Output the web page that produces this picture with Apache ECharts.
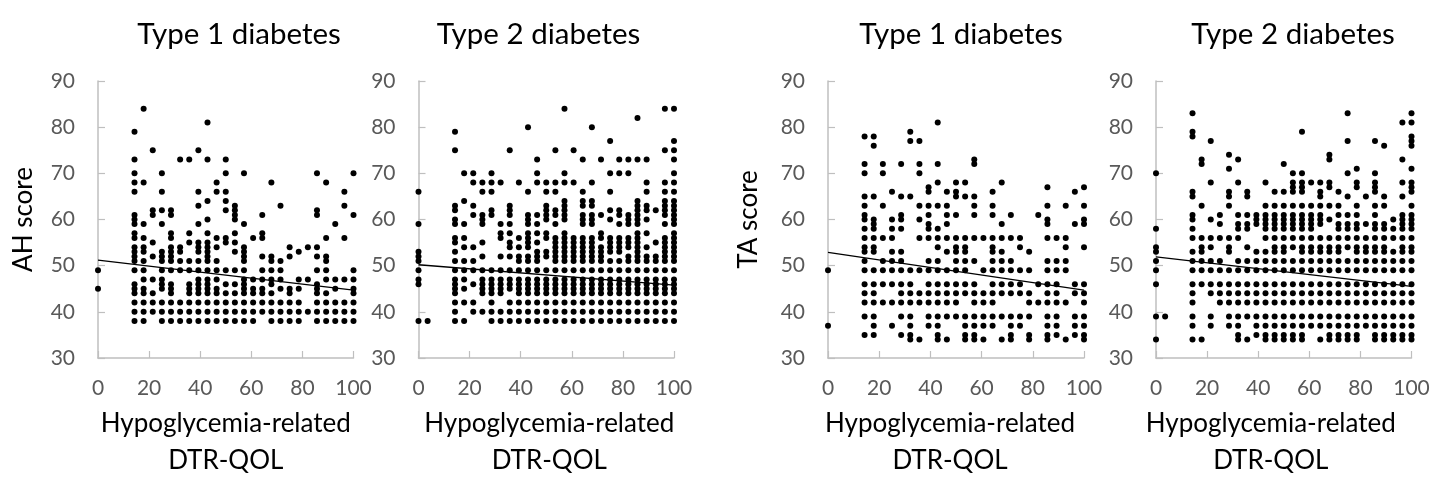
<!DOCTYPE html>
<html><head><meta charset="utf-8">
<style>html,body{margin:0;padding:0;background:#fff}#c{width:1432px;height:479px}</style>
<script src="https://cdn.jsdelivr.net/npm/echarts@6/dist/echarts.min.js"></script>
</head><body><div id="c"></div>
<script>
const xColumns = [0,3.57,14.29,17.86,21.43,25,28.57,32.14,35.71,39.29,42.86,46.43,50,53.57,57.14,60.71,64.29,67.86,71.43,75,78.57,82.14,85.71,89.29,92.86,96.43,100];
const ahType1 = [
[49,45],[],
[79,73,70,68,66,61,60,59,57,56,54,53,52,51,49,46,45,44,42,40,38],
[84,68,59,56,54,53,51,49,47,45,44,42,40,38],
[75,62,61,55,52,47,44,42,40],
[70,66,62,59,53,52,51,49,47,46,45,42,40,38],
[62,61,57,56,54,53,52,51,49,46,45,44,42,40,38],
[73,54,53,51,49,42,40,38],
[73,57,55,51,49,46,45,44,42,40,38],
[75,66,63,59,55,54,53,51,49,47,46,45,44,42,40,38],
[81,73,64,60,57,55,54,53,52,51,49,47,46,45,44,42,40,38],
[68,66,56,54,51,49,47,45,44,42,40,38],
[73,70,66,64,62,56,55,49,46,44,42,40,38],
[63,62,61,60,57,55,53,49,46,44,42,40,38],
[70,59,54,53,52,51,49,47,46,45,44,42,40,38],
[56,47,45,44,42,40,38],
[61,57,56,52,49,47,45,44,42,40],
[68,52,51,49,47,46,44,42,40,38],
[63,51,49,47,45,42,40,38],
[54,52,45,44,42,40,38],
[53,47,45,42,40,38],
[54,47,40],
[70,62,61,54,52,49,46,45,44,42,40,38],
[68,56,52,51,49,47,44,42,40,38],
[59,47,45,42,40,38],
[66,63,56,47,42,40,38],
[70,61,49,47,45,44,42,40,38]
];
const ahType2 = [
[66,59,53,52,51,49,47,46,38],[38],
[79,75,63,62,60,59,56,55,53,51,49,47,46,45,44,42,40,38],
[70,64,59,56,54,51,49,47,45,42,38],
[70,68,63,61,54,51,49,46,42,40],
[68,66,61,60,59,55,52,49,47,46,45,44,40],
[70,68,66,62,61,49,47,46,45,44,42,40,38],
[68,59,57,56,52,49,47,46,45,44,40,38],
[75,63,62,61,59,57,55,54,52,49,47,46,45,42,40,38],
[68,56,54,52,51,49,47,46,45,44,42,40,38],
[80,66,61,60,59,57,56,55,54,52,51,49,47,46,45,44,42,40,38],
[73,70,68,61,59,57,55,53,52,51,49,47,46,45,44,42,40,38],
[68,66,63,62,61,60,57,56,53,52,49,47,46,45,44,42,40,38],
[75,68,66,62,61,59,56,55,54,53,52,51,49,47,46,45,44,42,40,38],
[84,70,68,64,63,62,61,60,57,56,55,54,53,52,51,49,47,46,45,44,42,40,38],
[75,68,56,55,54,53,52,51,49,47,46,45,44,42,40,38],
[73,66,64,63,61,60,59,56,55,54,53,52,51,49,47,46,45,44,42,40,38],
[80,68,64,63,61,60,59,56,55,54,53,52,51,49,47,46,45,44,42,40,38],
[73,61,57,56,54,53,52,51,49,47,46,45,44,42,40,38],
[77,70,66,62,60,56,55,54,53,51,49,47,46,45,44,42,40,38],
[73,70,62,61,59,56,55,54,53,51,49,47,46,45,44,42,40,38],
[73,70,61,60,59,56,55,54,52,51,49,47,46,45,44,42,40,38],
[82,73,64,63,62,61,60,59,57,56,55,54,53,52,51,49,47,46,45,44,42,40,38],
[73,68,66,63,62,60,57,54,52,51,49,47,46,45,44,42,40,38],
[62,55,52,51,49,47,46,45,44,42,40,38],
[84,75,68,66,64,63,62,61,59,56,55,54,53,52,51,49,47,46,45,44,42,40,38],
[84,77,75,73,70,68,66,64,63,62,61,60,59,57,56,55,54,53,52,51,49,47,46,45,44,42,40,38]
];
const taType1 = [
[49,37],[],
[78,72,70,65,63,61,60,58,56,54,53,51,49,46,44,42,39,35],
[78,76,65,60,59,58,56,54,53,49,46,44,42,39,37,35],
[72,70,63,56,51,49,46,42],
[66,60,58,56,53,51,49,46,42,37],
[72,65,61,60,58,53,51,49,46,44,42,39,35],
[79,77,65,49,46,44,42,39,37,35,34],
[77,72,70,63,60,56,49,44,42,34],
[67,66,63,61,59,58,56,51,49,46,44,42,39,37],
[81,72,68,63,58,56,54,51,49,46,44,42,39,37,35,34],
[66,63,61,59,56,53,49,46,44,42,39,34],
[68,66,65,61,56,54,53,51,49,46,44,42,39],
[68,65,56,54,53,51,49,46,44,39,37,35,34],
[73,72,65,63,61,56,51,46,44,42,39,37,35,34],
[56,49,44,42,39,37,34],
[66,63,61,56,54,53,51,49,46,44,42,39,37],
[68,59,56,53,51,49,46,44,39,34],
[61,56,51,49,46,44,39,37,35,34],
[56,54,49,46,44,39,37],
[53,49,44,42,39,35,34],
[61,46,42],
[67,63,60,59,56,51,49,46,44,42,39,37,35,34],
[56,51,49,46,44,42,39,37,35],
[63,56,54,51,49,42,34],
[66,59,46,44,39,37,35],
[67,63,60,59,54,46,44,42,39,37,35,34]
];
const taType2 = [
[70,58,54,53,51,49,46,39,34],[39],
[83,79,78,66,65,61,60,58,56,53,51,49,46,44,42,39,37,34],
[73,72,63,56,54,53,51,49,46,34],
[77,68,60,56,54,51,49,46,44,39,37],
[61,59,56,51,49,46,44,42],
[74,71,66,65,63,56,54,53,49,46,44,42,39,37],
[73,68,61,59,58,56,51,49,46,44,42,39,37,35,34],
[66,65,61,59,58,54,51,49,46,44,42,39,34],
[61,60,59,53,51,49,46,44,42,39,37,35],
[68,63,61,60,59,58,56,53,51,49,46,44,42,39,37,35,34],
[66,63,61,60,59,58,56,54,53,51,49,46,44,42,39,37,35,34],
[72,66,63,61,60,59,58,56,54,53,51,49,46,44,42,39,37,35,34],
[70,68,67,66,63,61,60,59,58,56,54,51,49,46,44,42,39,37,35,34],
[79,70,68,67,66,63,61,60,59,58,56,54,53,51,49,46,44,42,39,37,35,34],
[68,63,61,60,59,58,56,54,53,51,49,46,44,42,39,37],
[68,66,65,63,61,60,59,56,54,53,51,49,46,44,42,39,37,34],
[74,73,68,67,63,60,56,54,53,51,49,46,44,42,39,37,35,34],
[66,63,61,59,58,56,54,53,51,49,46,44,42,39,37,35,34],
[83,77,70,65,61,59,58,56,54,51,49,46,44,42,39,37,35,34],
[71,68,67,63,61,59,58,56,54,53,51,49,46,44,42,39,37,35,34],
[65,59,56,54,53,51,49,46,44,42,39,37],
[77,70,68,67,66,63,61,59,58,56,54,53,51,49,46,44,42,39,37,35,34],
[76,65,63,59,58,56,54,53,51,49,46,44,42,39,37,35,34],
[60,58,56,53,51,49,46,44,42,39,37,35,34],
[81,73,68,65,61,60,59,58,56,54,53,51,49,46,44,42,39,37,35,34],
[83,81,78,77,76,71,68,67,66,63,61,60,59,58,56,54,53,51,49,46,44,42,39,37,35,34]
];
const trendX = [0,100];
const ahType1Trend = [51.2,44.7];
const ahType2Trend = [50.2,45.8];
const taType1Trend = [52.9,44.7];
const taType2Trend = [51.9,45.5];
const panelTitles = ['Type 1 diabetes','Type 2 diabetes','Type 1 diabetes','Type 2 diabetes'];
const yNames = ['AH score','','TA score',''];
const xName = 'Hypoglycemia-related\nDTR-QOL';

const font = 'Lato, "Open Sans", sans-serif';
const panels = [
 {left:98,  width:255.5, data:ahType1, trend:ahType1Trend, tx:234,  pad:[0,0,0,0],   gap:61},
 {left:418.5,width:255.5,data:ahType2, trend:ahType2Trend, tx:533.5,pad:[0,0,0,6],   gap:61},
 {left:828, width:256,   data:taType1, trend:taType1Trend, tx:956,  pad:[0,12,0,0],  gap:66},
 {left:1156,width:255.5, data:taType2, trend:taType2Trend, tx:1288, pad:[0,26,0,0],  gap:61}
];
const axisStyle = {lineStyle:{color:'#bfbfbf',width:1.5}};
const tickStyle = {show:true,inside:true,length:7,lineStyle:{color:'#bfbfbf',width:1.2}};
const option = {
 animation:false, backgroundColor:'#fff',
 title:panels.map((p,i)=>({text:panelTitles[i],left:p.tx,top:14,textAlign:'center',
   textStyle:{fontFamily:font,fontSize:29.5,fontWeight:'normal',color:'#000'}})),
 grid:panels.map(p=>({left:p.left,width:p.width,top:81,height:277,outerBoundsMode:'none'})),
 xAxis:panels.map((p,i)=>({type:'value',gridIndex:i,min:0,max:100,interval:20,
   name:xName,nameLocation:'middle',nameGap:47,
   nameTextStyle:{fontFamily:font,fontSize:26,color:'#000',lineHeight:37,padding:p.pad},
   axisLine:{show:true,...axisStyle},axisTick:tickStyle,splitLine:{show:false},
   axisLabel:{fontFamily:font,fontSize:21,color:'#595959',margin:20,showMinLabel:true,showMaxLabel:true}})),
 yAxis:panels.map((p,i)=>({type:'value',gridIndex:i,min:30,max:90,interval:10,
   name:yNames[i],nameLocation:'middle',nameGap:p.gap,nameRotate:90,
   nameTextStyle:{fontFamily:font,fontSize:26,color:'#000'},
   axisLine:{show:true,...axisStyle},axisTick:tickStyle,splitLine:{show:false},
   axisLabel:{fontFamily:font,fontSize:21,color:'#595959',margin:23}})),
 series:panels.flatMap((p,i)=>[
  {type:'scatter',xAxisIndex:i,yAxisIndex:i,symbolSize:6,clip:false,itemStyle:{color:'#000',opacity:1},
   data:p.data.flatMap((ys,c)=>ys.map(y=>[xColumns[c],y]))},
  {type:'line',xAxisIndex:i,yAxisIndex:i,showSymbol:false,symbol:'none',
   lineStyle:{color:'#000',width:1.3},data:trendX.map((x,j)=>[x,p.trend[j]])}
 ])
};
echarts.init(document.getElementById('c')).setOption(option);
</script></body></html>
